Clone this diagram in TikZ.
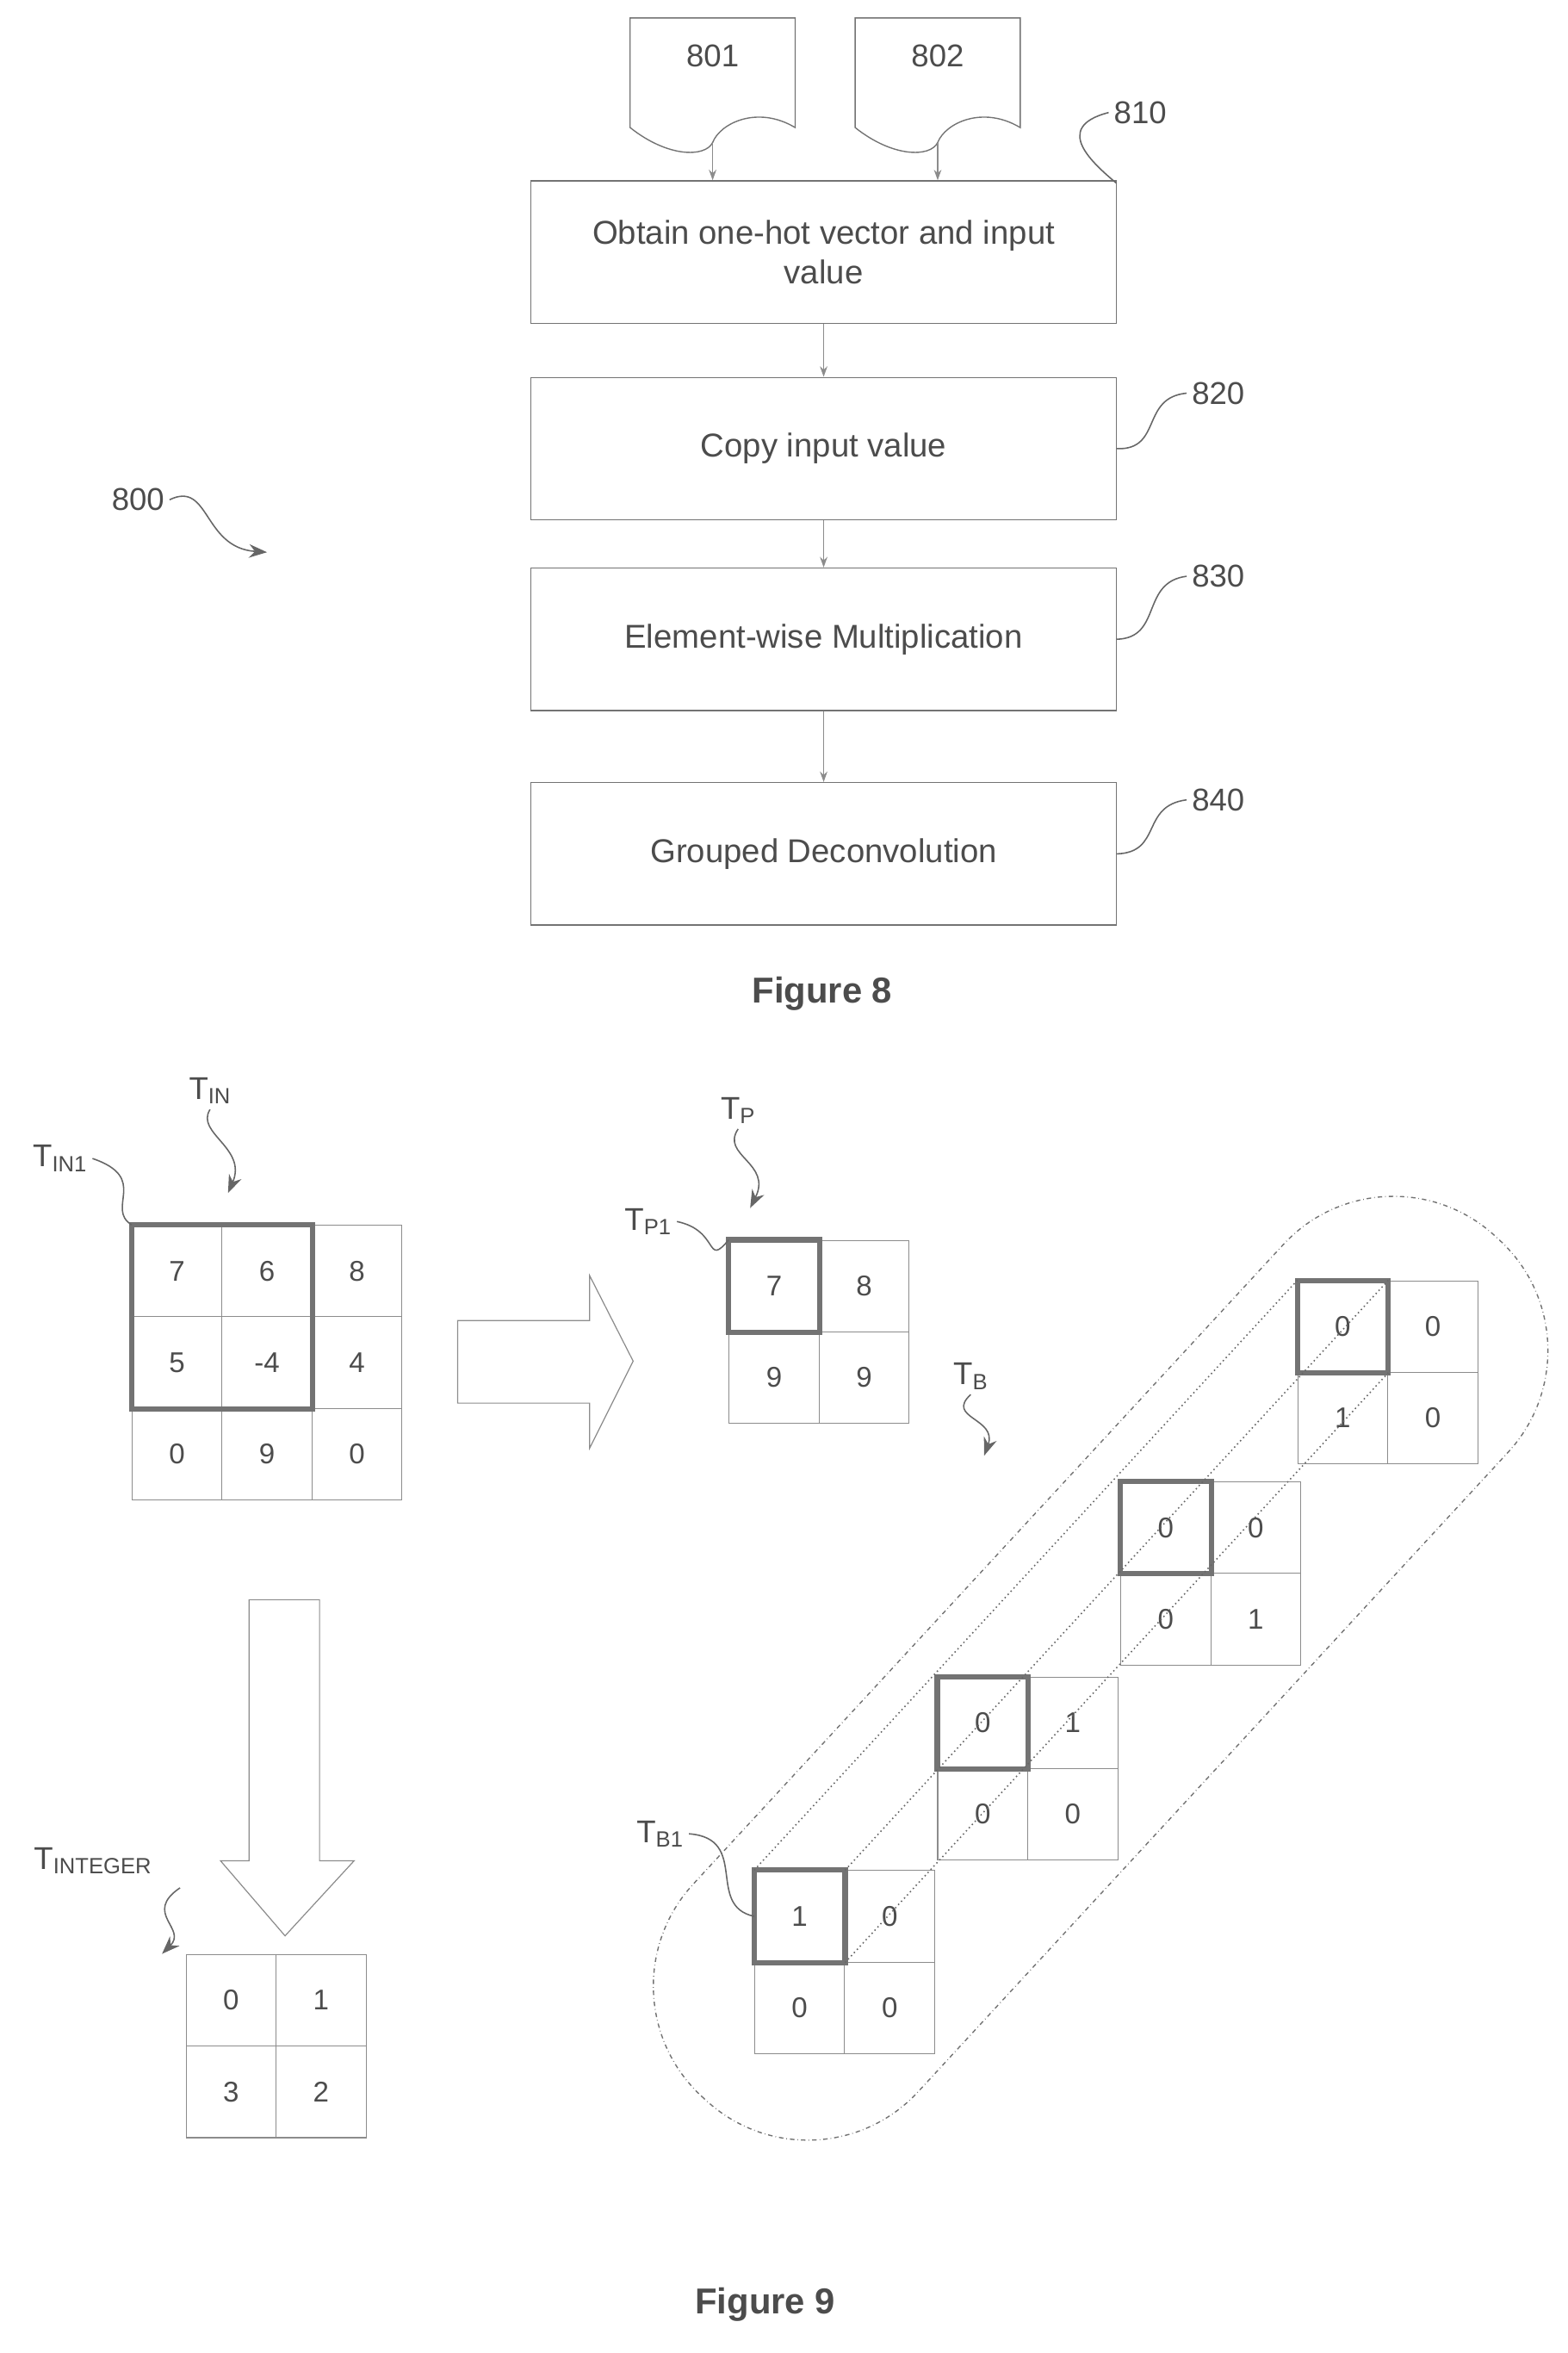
\documentclass[tikz,border=0pt]{standalone}
\usepackage{fontspec}
\setmainfont{Liberation Sans}
\usetikzlibrary{arrows.meta}
\begin{document}
\begin{tikzpicture}[x=1pt,y=-1pt,
  every node/.style={text=black!70},
  box/.style={draw=black!55,line width=0.8pt,minimum width=390pt,minimum height=95pt,align=center,font=\fontsize{22}{26}\selectfont},
  lbl/.style={font=\fontsize{21}{24}\selectfont},
  cell/.style={draw=black!45,line width=0.6pt,minimum width=60pt,minimum height=61pt,inner sep=0pt,font=\fontsize{19}{22}\selectfont},
  bold/.style={draw=black!55,line width=3.5pt},
  sq/.style={draw=black!60,line width=0.9pt},
  sqa/.style={sq,-{Stealth[length=12pt,width=9pt]}},
  hol/.style={draw=black!45,line width=0.7pt},
  arr/.style={draw=black!45,line width=0.7pt,-{Stealth[length=7pt,width=5pt]}}]
\useasboundingbox (0,0) rectangle (1045,1568);
% Figure 8
\foreach \n/\x in {801/420,802/570}{
  \draw[black!55,line width=0.8pt] (\x,12) -- (\x+110,12) -- (\x+110,85) .. controls (\x+85,70) and (\x+60,82) .. (\x+55,95) .. controls (\x+50,105) and (\x+25,105) .. (\x,85) -- cycle;
  \node[lbl] (d\n) at (\x+55,37) {\n};}
\node[box] (b810) at (549,168) {Obtain one-hot vector and input\\value};
\node[box] (b820) at (549,299) {Copy input value};
\node[box] (b830) at (549,426) {Element-wise Multiplication};
\node[box] (b840) at (549,569) {Grouped Deconvolution};
\coordinate (a1) at (475,95); \coordinate (a2) at (625,95);
\draw[arr] (a1) -- (b810.north -| a1);
\draw[arr] (a2) -- (b810.north -| a2);
\draw[arr] (b810) -- (b820);
\draw[arr] (b820) -- (b830);
\draw[arr] (b830) -- (b840);
\node[lbl] (l810) at (760,75) {810};
\node[lbl] (l820) at (812,262) {820};
\node[lbl] (l830) at (812,384) {830};
\node[lbl] (l840) at (812,533) {840};
\coordinate (e810) at (744,122);
\draw[sq] (l810.west) .. controls (700,85) and (730,110) .. (e810);
\draw[sq] (l820.west) .. controls (760,265) and (775,300) .. (b820.east);
\draw[sq] (l830.west) .. controls (760,388) and (775,425) .. (b830.east);
\draw[sq] (l840.west) .. controls (760,537) and (775,568) .. (b840.east);
\node[lbl] (l800) at (92,333) {800};
\coordinate (e800) at (178,368);
\draw[sqa] (l800.east) .. controls (140,320) and (135,365) .. (e800);
\node[font=\bfseries\fontsize{24}{28}\selectfont] (f8) at (548,662) {Figure 8};
% Figure 9: T_IN
\foreach \r/\row in {0/{7,6,8},1/{5,-4,4},2/{0,9,0}}{
  \foreach \v [count=\c from 0] in \row {
    \node[cell] (in\r\c) at (118+60*\c,847+61*\r) {\v};}}
\draw[bold] (in00.north west) rectangle (in11.south east);
\node[lbl] (tin) at (140,727) {T\textsubscript{IN}};
\coordinate (etin) at (152,795);
\draw[sqa] (tin.south) .. controls (130,755) and (165,765) .. (etin);
\node[lbl] (tin1) at (40,772) {T\textsubscript{IN1}};
\draw[sq] (tin1.east) .. controls (100,785) and (70,805) .. (in00.north west);
% big right arrow
\draw[hol] (305,880) -- (393,880) -- (393,850) -- (422,907) -- (393,965) -- (393,935) -- (305,935) -- cycle;
% T_P
\foreach \r/\row in {0/{7,8},1/{9,9}}{
  \foreach \v [count=\c from 0] in \row {
    \node[cell] (p\r\c) at (516+60*\c,857+61*\r) {\v};}}
\draw[bold] (p00.north west) rectangle (p00.south east);
\node[lbl] (tp) at (492,740) {T\textsubscript{P}};
\coordinate (etp) at (500,805);
\draw[sqa] (tp.south) .. controls (480,770) and (515,775) .. (etp);
\node[lbl] (tp1) at (432,814) {T\textsubscript{P1}};
\draw[sq] (tp1.east) .. controls (480,820) and (470,845) .. (p00.north west);
% T_B
\node[lbl] (tb) at (647,917) {T\textsubscript{B}};
\coordinate (etb) at (656,970);
\draw[sqa] (tb.south) .. controls (630,945) and (665,945) .. (etb);
% big down arrow
\draw[hol] (166,1066) -- (213,1066) -- (213,1240) -- (236,1240) -- (190,1290) -- (147,1240) -- (166,1240) -- cycle;
% T_INTEGER
\foreach \r/\row in {0/{0,1},1/{3,2}}{
  \foreach \v [count=\c from 0] in \row {
    \node[cell] (g\r\c) at (154+60*\c,1333+61*\r) {\v};}}
\node[lbl] (tint) at (62,1240) {T\textsubscript{INTEGER}};
\coordinate (etint) at (108,1302);
\draw[sqa] (120,1258) .. controls (95,1275) and (125,1285) .. (etint);
% T_B grids
\foreach \k/\x/\y/\a/\b/\c/\d in {1/503/1247/1/0/0/0,2/625/1118/0/1/0/0,3/747/988/0/0/0/1,4/865/854/0/0/1/0}{
  \node[cell] (b\k00) at (\x+30,\y+30) {\a};
  \node[cell] (b\k01) at (\x+90,\y+30) {\b};
  \node[cell] (b\k10) at (\x+30,\y+91) {\c};
  \node[cell] (b\k11) at (\x+90,\y+91) {\d};
  \draw[bold] (b\k00.north west) rectangle (b\k00.south east);}
\draw[black!60,dotted,line width=0.9pt] (b100.north west) -- (b400.north west);
\draw[black!60,dotted,line width=0.9pt] (b100.north east) -- (b400.north east);
\draw[black!60,dotted,line width=0.9pt] (b100.south east) -- (b400.south east);
\begin{scope}[shift={(737,1108)},rotate=47.3]
\draw[black!55,dash dot,line width=0.8pt,rounded corners=100pt] (-395,-102) rectangle (385,102);
\end{scope}
\node[lbl] (tb1) at (440,1222) {T\textsubscript{B1}};
\draw[sq] (tb1.east) .. controls (500,1225) and (470,1270) .. (b100.west);
\node[font=\bfseries\fontsize{24}{28}\selectfont] (f9) at (510,1536) {Figure 9};
\end{tikzpicture}
\end{document}
